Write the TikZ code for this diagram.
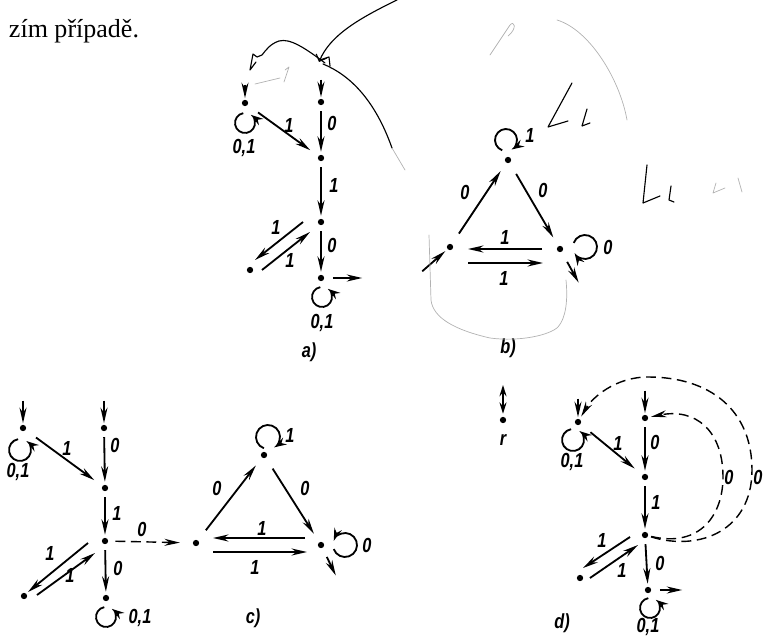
\documentclass[tikz,border=0pt]{standalone}
\usepackage{fontspec}
\setmainfont{Liberation Serif}
\setsansfont{Liberation Sans}
\newfontfamily\lblfont[FakeStretch=0.8]{Liberation Sans}
\usetikzlibrary{arrows.meta,calc}

\begin{document}
\begin{tikzpicture}[x=0.025cm,y=0.025cm,
  st/.style={circle,fill,inner sep=0pt,minimum size=4.5pt},
  trans/.style={-{Stealth[length=11pt,width=5pt]},line width=1.3pt,shorten <=4pt,shorten >=2pt},
  diag/.style={trans,shorten <=9pt,shorten >=7pt},
  par/.style={trans,shorten <=0pt,shorten >=0pt},
  dtrans/.style={trans,line width=1pt,dash pattern=on 7pt off 4pt},
  lp/.style={-{Stealth[length=9pt,width=5.5pt]},line width=1.3pt},
  lbl/.style={font=\lblfont\itshape\bfseries\fontsize{14.5}{14.5}\selectfont,inner sep=0pt},
  hand/.style={line width=0.8pt,line cap=round,line join=round},
  pencil/.style={hand,black!30,line width=0.5pt}]
\useasboundingbox (0,0) rectangle (765,-644);

\node[anchor=base west,font=\fontsize{18.5}{18.5}\selectfont] (txt) at (4,-38) {zím případě.};

% a)
\node[st] (a1) at (245,-103) {};
\node[st] (a2) at (321,-102) {};
\node[st] (a3) at (321,-158) {};
\node[st] (a4) at (321,-222) {};
\node[st] (a5) at (250,-270) {};
\node[st] (a6) at (321,-278) {};
\draw[trans,shorten >=1pt] (a1) ++(0,24) -- (a1);
\draw[trans,shorten >=1pt] (a2) ++(0,28) -- (a2);
\draw[trans] (a2) -- (a3);
\draw[diag] (a1) -- (a3);
\draw[trans] (a3) -- (a4);
\draw[trans] (a4) -- (a6);
\draw[par] ([shift={(-18,0)}]a4.center) -- ([shift={(5,10)}]a5.center);
\draw[par] ([shift={(12,0)}]a5.center) -- ([shift={(-11,-10)}]a4.center);
\draw[trans,shorten <=6pt] (a6) -- ++(44,0);
\draw[lp] (a1) ++(0,-20) ++(100:10) arc[start angle=100,end angle=415,radius=10];
\draw[lp] (a6) ++(1,-19) ++(100:10) arc[start angle=100,end angle=415,radius=10];
\node[lbl] (la23) at (332,-123) {0};
\node[lbl] (la13) at (289,-125) {1};
\node[lbl] (la34) at (334,-185) {1};
\node[lbl] (la45) at (276,-227) {1};
\node[lbl] (la54) at (290,-260) {1};
\node[lbl] (la46) at (332,-245) {0};
\node[lbl] (la1) at (244,-148) {0,1};
\node[lbl] (la6) at (322,-323) {0,1};
\node[lbl] (capa) at (309,-352) {a)};

% b)
\node[st] (b1) at (508,-160) {};
\node[st] (b2) at (450,-247) {};
\node[st] (b3) at (560,-249) {};
\draw[diag] (b2) -- (b1);
\draw[diag] (b1) -- (b3);
\draw[par] ([shift={(-18,0)}]b3.center) -- ([shift={(18,-2)}]b2.center);
\draw[par] ([shift={(18,-16)}]b2.center) -- ([shift={(-17,-14)}]b3.center);
\draw[trans,shorten >=2pt] (b2) ++(-32,-28) -- (b2);
\draw[trans,shorten <=8pt] (b3) -- ++(20,-36);
\draw[lp] (b1) ++(-2,20) ++(250:11) arc[start angle=250,end angle=-60,radius=11];
\draw[lp] (b3) ++(25,2) ++(160:12) arc[start angle=160,end angle=-150,radius=12];
\node[lbl] (lb1) at (530,-135) {1};
\node[lbl] (lb21) at (465,-192) {0};
\node[lbl] (lb13) at (543,-190) {0};
\node[lbl] (lb32) at (505,-237) {1};
\node[lbl] (lb23) at (504,-278) {1};
\node[lbl] (lb3) at (608,-247) {0};
\node[lbl] (capb) at (508,-348) {b)};

% c)
\node[st] (c1) at (23,-428) {};
\node[st] (c2) at (104,-428) {};
\node[st] (c3) at (105,-488) {};
\node[st] (c4) at (105,-541) {};
\node[st] (c5) at (24,-596) {};
\node[st] (c6) at (106,-598) {};
\node[st] (c7) at (196,-543) {};
\node[st] (c8) at (264,-455) {};
\node[st] (c9) at (321,-545) {};
\draw[trans,shorten >=1pt] (c1) ++(0,33) -- (c1);
\draw[trans,shorten >=1pt] (c2) ++(0,33) -- (c2);
\draw[trans] (c2) -- (c3);
\draw[diag] (c1) -- (c3);
\draw[trans] (c3) -- (c4);
\draw[trans] (c4) -- (c6);
\draw[par] ([shift={(-17,-2)}]c4.center) -- ([shift={(4,4)}]c5.center);
\draw[par] ([shift={(13,1)}]c5.center) -- ([shift={(-10,-12)}]c4.center);
\draw[dtrans,shorten <=5pt,shorten >=9pt] (c4) -- (c7);
\draw[diag] (c7) -- (c8);
\draw[diag] (c8) -- (c9);
\draw[par] ([shift={(-16,7)}]c9.center) -- ([shift={(17,5)}]c7.center);
\draw[par] ([shift={(17,-9)}]c7.center) -- ([shift={(-14,-7)}]c9.center);
\draw[trans,shorten <=7pt] (c9) -- ++(16,-33);
\draw[lp] (c1) ++(-3,-22) ++(100:11) arc[start angle=100,end angle=415,radius=11];
\draw[lp] (c6) ++(0,-19) ++(100:10) arc[start angle=100,end angle=415,radius=10];
\draw[lp] (c8) ++(4,18) ++(250:12) arc[start angle=250,end angle=-60,radius=12];
\draw[lp] (c9) ++(24,0) ++(-160:12) arc[start angle=-160,end angle=160,radius=12];
\node[lbl] (lc23) at (115,-445) {0};
\node[lbl] (lc13) at (67,-448) {1};
\node[lbl] (lc34) at (117,-513) {1};
\node[lbl] (lc45) at (50,-553) {1};
\node[lbl] (lc54) at (70,-575) {1};
\node[lbl] (lc46) at (118,-568) {0};
\node[lbl] (lc1) at (18,-472) {0,1};
\node[lbl] (lc6) at (140,-618) {0,1};
\node[lbl] (lc47) at (142,-529) {0};
\node[lbl] (lc78) at (217,-488) {0};
\node[lbl] (lc89) at (305,-488) {0};
\node[lbl] (lc8) at (290,-435) {1};
\node[lbl] (lc97) at (262,-528) {1};
\node[lbl] (lc79) at (255,-567) {1};
\node[lbl] (lc9) at (367,-545) {0};
\node[lbl] (capc) at (253,-618) {c)};

% r
\node[st] (r) at (503,-420) {};
\draw[{Stealth[length=8pt,width=5pt]}-{Stealth[length=8pt,width=5pt]},line width=1.3pt,shorten >=2pt] (r) ++(0,35) -- (r);
\node[lbl] (lr) at (503,-440) {r};

% d)
\node[st] (d1) at (578,-422) {};
\node[st] (d2) at (645,-418) {};
\node[st] (d3) at (645,-477) {};
\node[st] (d4) at (645,-535) {};
\node[st] (d5) at (580,-578) {};
\node[st] (d6) at (648,-590) {};
\draw[trans,shorten >=1pt] (d1) ++(0,29) -- (d1);
\draw[trans,shorten >=1pt] (d2) ++(0,33) -- (d2);
\draw[trans] (d2) -- (d3);
\draw[diag] (d1) -- (d3);
\draw[trans] (d3) -- (d4);
\draw[trans] (d4) -- (d6);
\draw[par] ([shift={(-15,-2)}]d4.center) -- ([shift={(3,10)}]d5.center);
\draw[par] ([shift={(10,0)}]d5.center) -- ([shift={(-7,-10)}]d4.center);
\draw[trans,shorten <=6pt] (d6) -- ++(37,0);
\draw[lp] (d1) ++(-5,-18) ++(100:11) arc[start angle=100,end angle=415,radius=11];
\draw[lp] (d6) ++(2,-18) ++(100:10) arc[start angle=100,end angle=415,radius=10];
% back edges
\draw[dtrans,shorten <=2pt] (d4) .. controls (700,-548) and (723,-515) .. (723,-477)
  .. controls (723,-430) and (695,-408) .. (d2);
\draw[dtrans,shorten <=2pt] (d4) .. controls (700,-552) and (752,-530) .. (752,-470)
  .. controls (752,-410) and (710,-377) .. (648,-377)
  .. controls (615,-377) and (592,-398) .. (d1);
\node[lbl] (ld42) at (729,-477) {0};
\node[lbl] (ld41) at (758,-477) {0};
\node[lbl] (ld23) at (655,-442) {0};
\node[lbl] (ld13) at (618,-443) {1};
\node[lbl] (ld34) at (656,-502) {1};
\node[lbl] (ld45) at (602,-540) {1};
\node[lbl] (ld54) at (622,-570) {1};
\node[lbl] (ld46) at (660,-563) {0};
\node[lbl] (ld1) at (572,-462) {0,1};
\node[lbl] (ld6) at (648,-627) {0,1};
\node[lbl] (capd) at (562,-623) {d)};

% handwritten marks
\draw[hand,-{Straight Barb[length=4pt]}] (397,0) .. controls (360,-18) and (330,-35) .. (319,-62);
\draw[hand] (325,-63) .. controls (305,-48) and (290,-38) .. (279,-41)
  .. controls (270,-44) and (266,-50) .. (262,-55) -- (257,-57) -- (253,-54) -- (250,-70) -- (256,-62);
\draw[hand] (323,-64) .. controls (350,-75) and (375,-100) .. (392,-148);
\draw[hand] (320,-60) -- (329,-57) -- (330,-66);
\draw[hand] (572,-83) -- (548,-127) -- (568,-121);
\draw[hand] (587,-109) -- (582,-126) -- (590,-123);
\draw[hand] (647,-165) -- (643,-203) -- (660,-196);
\draw[hand] (671,-186) -- (669,-200) -- (674,-202);
\draw[pencil] (392,-148) -- (405,-170);
\draw[pencil] (255,-84) -- (280,-78);
\draw[pencil] (284,-82) -- (289,-67) -- (285,-70);
\draw[pencil] (490,-55) -- (510,-25) .. controls (514,-20) and (518,-28) .. (508,-36);
\draw[pencil] (557,-20) .. controls (590,-30) and (620,-80) .. (627,-120);
\draw[pencil] (429,-235) -- (431,-300) .. controls (433,-318) and (455,-330) .. (490,-338)
  .. controls (520,-342) and (550,-335) .. (558,-327) .. controls (566,-318) and (568,-300) .. (566,-280);
\draw[pencil] (716,-183) -- (713,-193) -- (725,-188);
\draw[pencil] (738,-178) -- (742,-192);
\end{tikzpicture}
\end{document}
